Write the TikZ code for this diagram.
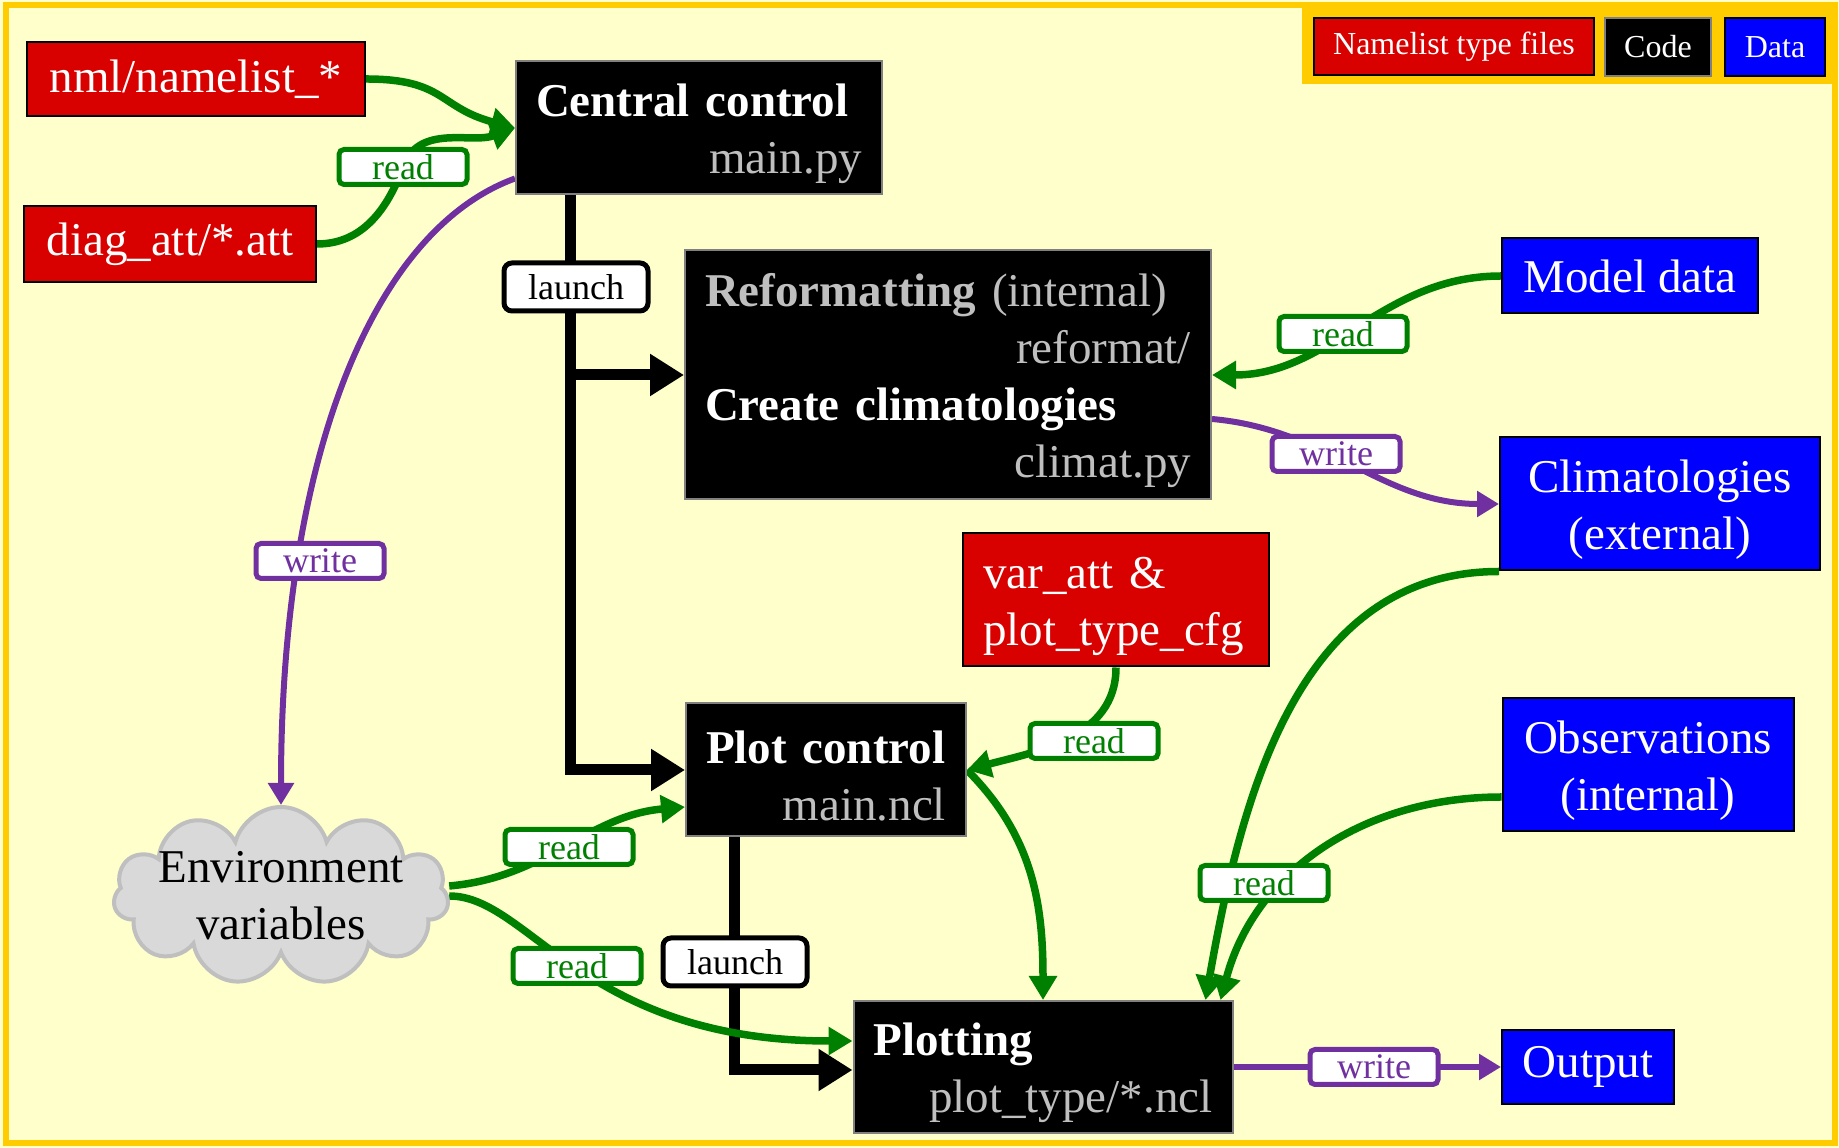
\documentclass[tikz,border=0pt]{standalone}
\usepackage{fontspec}
\setmainfont{Liberation Serif}
\usepackage{tikz}
\usetikzlibrary{arrows.meta, shapes.symbols, backgrounds}
\definecolor{bgyellow}{HTML}{FFFFCC}
\definecolor{framegold}{HTML}{FFCC00}
\definecolor{nmlred}{HTML}{D90000}
\definecolor{datablue}{HTML}{0000FF}
\definecolor{codeline}{HTML}{808080}
\definecolor{codetext}{HTML}{BFBFBF}
\definecolor{readgreen}{HTML}{008000}
\definecolor{writepurple}{HTML}{7030A0}
\definecolor{cloudfill}{HTML}{D9D9D9}
\definecolor{cloudline}{HTML}{BFBFBF}
\newcommand{\boxfont}{\fontsize{47}{57}\selectfont}
\newcommand{\lblfont}{\fontsize{36}{40}\selectfont}
\newcommand{\legfont}{\fontsize{32}{38}\selectfont}
\newcommand{\pushright}{\leavevmode\hskip 0pt plus 1fill\relax}
\newcommand{\topstrut}{\rule{0pt}{44pt}}
\tikzset{
  nmlbox/.style={fill=nmlred, draw=black, line width=2pt, text=white, font=\boxfont, align=center, inner sep=0pt},
  codebox/.style={fill=black, draw=codeline, line width=2pt, text=white, font=\boxfont, align=left, inner xsep=20pt, inner ysep=0pt},
  databox/.style={fill=datablue, draw=black, line width=2pt, text=white, font=\boxfont, align=center, inner sep=0pt},
  readlbl/.style={draw=readgreen, fill=white, text=readgreen, line width=5pt, rounded corners=5pt, font=\lblfont, minimum width=128pt, minimum height=35pt, inner sep=0pt},
  writelbl/.style={readlbl, draw=writepurple, text=writepurple},
  launchlbl/.style={readlbl, draw=black, text=black, rounded corners=8pt, minimum width=144pt, minimum height=48pt},
  readarr/.style={draw=readgreen, line width=7.5pt, -{Triangle[length=24pt,width=27pt]}},
  writearr/.style={draw=writepurple, line width=6pt, -{Triangle[length=22pt,width=25pt]}},
  launcharr/.style={draw=black, line width=11pt, -{Triangle[length=34pt,width=40pt]}}
}

\begin{document}
\begin{tikzpicture}[x=1pt, y=1pt]
\useasboundingbox (0,0) rectangle (1839,1148);
\begin{scope}[on background layer]
\fill[bgyellow] (0,0) rectangle (1839,1148);
\end{scope}

% key
\fill[framegold] (1302,1064) rectangle (1836,1144);
\node[nmlbox, font=\legfont, minimum width=280pt, minimum height=57pt] (keynml) at (1454,1101) {Namelist type files};
\node[codebox, font=\legfont, align=center, inner xsep=0pt, minimum width=106pt, minimum height=58pt] (keycode) at (1658,1101) {Code};
\node[databox, font=\legfont, minimum width=100pt, minimum height=58pt] (keydata) at (1775,1101) {Data};

% namelists
\node[nmlbox, minimum width=338pt, minimum height=74pt] (nml) at (196,1069) {nml/namelist\_*};
\node[nmlbox, minimum width=292pt, minimum height=76pt] (diag) at (170,904) {diag\_att/*.att};
\node[nmlbox, align=left, inner xsep=20pt, text width=266pt, minimum height=133pt] (varatt) at (1116,548) {\topstrut var\_att \&\\plot\_type\_cfg};

% code
\node[codebox, text width=326pt, minimum height=133pt] (central) at (699,1020)
  {\topstrut\textbf{Central control}\\\pushright\textcolor{codetext}{main.py}};
\node[codebox, text width=486pt, minimum height=249pt] (reformat) at (948,773)
  {\topstrut\textcolor{codetext}{\textbf{Reformatting} (internal)}\\
   \pushright\textcolor{codetext}{reformat/}\\
   \textbf{Create climatologies}\\
   \pushright\textcolor{codetext}{climat.py}};
\node[codebox, text width=240pt, minimum height=133pt] (plotctl) at (826,378)
  {\topstrut\textbf{Plot control}\\\pushright\textcolor{codetext}{main.ncl}};
\node[codebox, text width=339pt, minimum height=132pt] (plotting) at (1043,81)
  {\topstrut\textbf{Plotting}\\\pushright\textcolor{codetext}{plot\_type/*.ncl}};

% data
\node[databox, minimum width=256pt, minimum height=75pt] (model) at (1630,872) {Model data};
\node[databox, minimum width=320pt, minimum height=133pt] (climext) at (1660,644) {\topstrut Climatologies\\(external)};
\node[databox, minimum width=291pt, minimum height=133pt] (obs) at (1648,383) {\topstrut Observations\\(internal)};
\node[databox, minimum width=172pt, minimum height=74pt] (output) at (1588,81) {Output};

% environment
\node[cloud, cloud puffs=11, cloud ignores aspect, fill=cloudfill, draw=cloudline, line width=4pt,
  minimum width=335pt, minimum height=178pt, inner sep=0pt] (env) at (281,252) {};
\node[font=\boxfont, align=center] (envtxt) at (env.center) {Environment\\variables};

% labels
\node[readlbl] (rd1) at (403,981) {read};
\node[launchlbl] (ln1) at (576,861) {launch};
\node[writelbl] (wr1) at (320,587) {write};
\node[readlbl] (rd2) at (1343,814) {read};
\node[writelbl] (wr2) at (1336,694) {write};
\node[readlbl] (rd3) at (1094,407) {read};
\node[readlbl] (rd4) at (569,301) {read};
\node[readlbl] (rd5) at (577,182) {read};
\node[launchlbl] (ln2) at (735,186) {launch};
\node[readlbl] (rd6) at (1264,265) {read};
\node[writelbl] (wr3) at (1374,81) {write};

\begin{scope}[on background layer]
% central control
\draw[readarr] (nml.east) to[out=0,in=165,looseness=1.3] (central.west);
\draw[readarr] (diag.east) to[out=0,in=-110] (rd1.center) to[out=70,in=200] (central.west);
\draw[writearr] ([yshift=17pt]central.south west) .. controls +(200:150) and +(90:350) .. (env.north);
\draw[launcharr] ([xshift=55pt]central.south west) |- (plotctl.west);
\draw[launcharr] ([xshift=55pt]central.south west |- reformat.west) -- (reformat.west);
% reformatting
\draw[readarr] (model.west) to[out=180,in=0] (reformat.east);
\draw[writearr] ([yshift=-44pt]reformat.east) to[out=-5,in=180] (climext.west);
% plot control
\draw[readarr] (varatt.south) to[out=-90,in=15] (plotctl.east);
\draw[readarr] (plotctl.east) to[out=-45,in=90] (plotting.north);
\draw[readarr] ([yshift=10pt]env.east) to[out=5,in=185] ([yshift=-37pt]plotctl.west);
\draw[launcharr] ([xshift=49pt]plotctl.south west) |- ([yshift=-3pt]plotting.west);
% plotting
\draw[readarr] (env.east) .. controls +(0:80) and +(180:270) .. ([yshift=26pt]plotting.west);
\draw[readarr] (climext.south west) to[out=180,in=80] ([xshift=-28pt]plotting.north east);
\draw[readarr] ([yshift=-32pt]obs.west) to[out=180,in=75] ([xshift=-13pt]plotting.north east);
\draw[writearr] (plotting.east) -- (output.west);
\end{scope}

\draw[framegold, line width=6pt] (6,5) rectangle (1835,1143);
\end{tikzpicture}
\end{document}
